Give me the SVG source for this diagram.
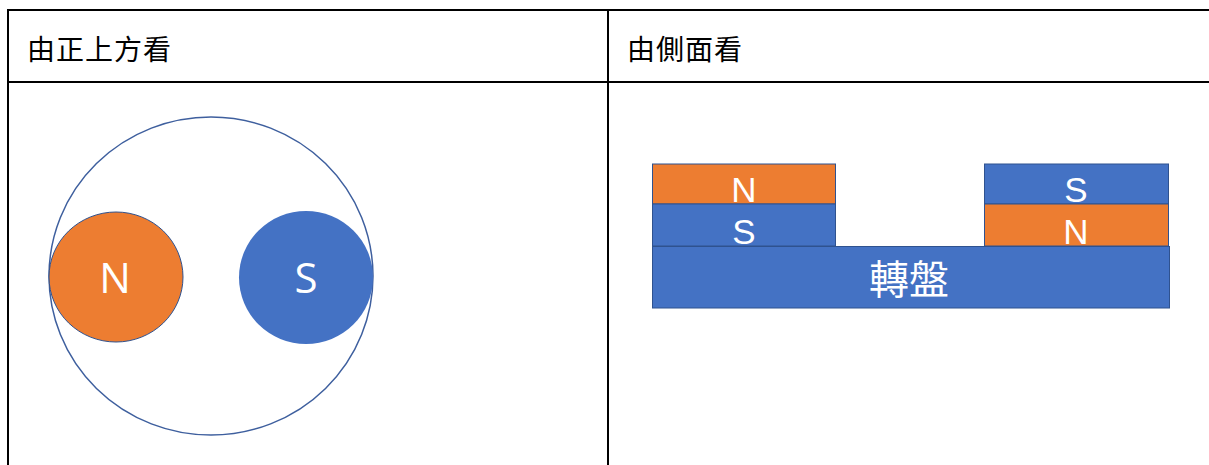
<svg xmlns="http://www.w3.org/2000/svg" width="1209" height="465" viewBox="0 0 1209 465">
<style>
.grid{stroke:#000;stroke-width:2;fill:none}
.hdr{font-family:"Noto Sans CJK TC","Noto Sans CJK SC",sans-serif;font-size:28px;fill:#000;letter-spacing:1px}
.orange{fill:#ED7D31;stroke:#2F528F;stroke-width:1}
.blue{fill:#4472C4;stroke:#2F528F;stroke-width:1}
.lbl{font-family:"Open Sans","Noto Sans",sans-serif;fill:#fff;text-anchor:middle}
.slbl{font-family:"Liberation Sans",Arial,sans-serif;fill:#fff;text-anchor:middle;font-size:35px}
.cjk{font-family:"Noto Sans CJK TC","Noto Sans CJK SC",sans-serif;fill:#fff;text-anchor:middle;font-size:40px}
</style>
<rect width="1209" height="465" fill="#fff"/>
<g id="table">
<line class="grid" x1="8" y1="10" x2="1209" y2="10"/>
<line class="grid" x1="8" y1="82" x2="1209" y2="82"/>
<line class="grid" x1="8" y1="9" x2="8" y2="465"/>
<line class="grid" x1="608" y1="9" x2="608" y2="465"/>
<text class="hdr" x="27" y="60">由正上方看</text>
<text class="hdr" x="627" y="60">由側面看</text>
</g>
<g id="top-view">
<ellipse cx="211" cy="276" rx="162" ry="159" fill="none" stroke="#3E5F9E" stroke-width="1.5"/>
<g id="top-n">
<ellipse class="orange" cx="116" cy="277" rx="67" ry="65" stroke-width="1.5"/>
<text class="lbl" x="115" y="293" font-size="42">N</text>
</g>
<g id="top-s">
<ellipse cx="306" cy="277.5" rx="67" ry="66.5" fill="#4472C4"/>
<text class="lbl" x="306" y="293" font-size="42">S</text>
</g>
</g>
<g id="side-view">
<g id="left-n"><rect class="orange" x="652.5" y="164" width="183" height="40"/><text class="slbl" x="744" y="202">N</text></g>
<g id="left-s"><rect class="blue" x="652.5" y="204" width="183" height="42"/><text class="slbl" x="744" y="244">S</text></g>
<g id="right-s"><rect class="blue" x="984.5" y="164" width="184" height="40"/><text class="slbl" x="1076" y="202">S</text></g>
<g id="right-n"><rect class="orange" x="984.5" y="204" width="184" height="42"/><text class="slbl" x="1076" y="244">N</text></g>
<g id="turntable"><rect class="blue" x="652.5" y="246.5" width="517" height="61.5"/><text class="cjk" x="909" y="294">轉盤</text></g>
</g>
</svg>
